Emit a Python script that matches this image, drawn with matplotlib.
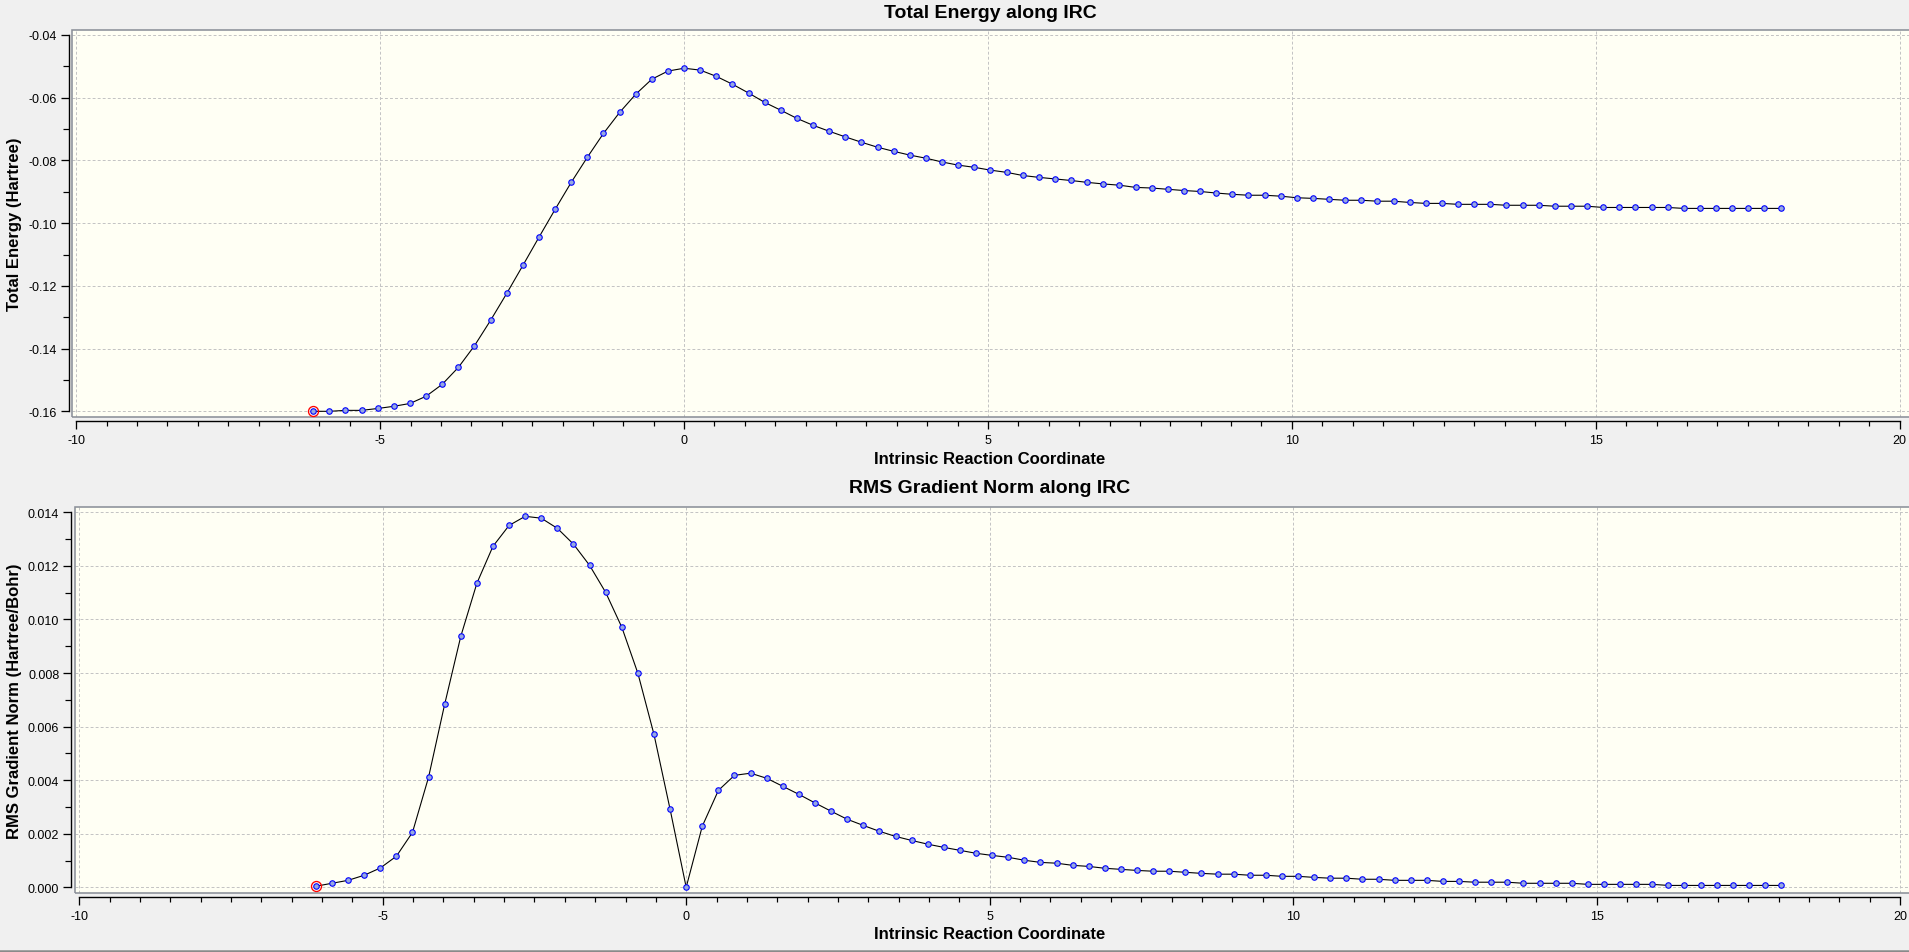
import matplotlib
matplotlib.use("Agg")
import matplotlib.pyplot as plt
from matplotlib.ticker import MultipleLocator, FormatStrFormatter
from matplotlib.patches import Rectangle
from matplotlib.lines import Line2D

plt.rcParams['font.family'] = ['Liberation Sans', 'DejaVu Sans']

# ---------------- data ----------------
irc = [-6.102, -5.837, -5.571, -5.306, -5.041, -4.775, -4.510, -4.245, -3.980, -3.714,
       -3.449, -3.184, -2.918, -2.653, -2.388, -2.122, -1.857, -1.592, -1.327, -1.061,
       -0.796, -0.531, -0.265, 0.000, 0.265, 0.531, 0.796, 1.061, 1.327, 1.592,
       1.857, 2.122, 2.388, 2.653, 2.918, 3.184, 3.449, 3.714, 3.980, 4.245,
       4.510, 4.775, 5.041, 5.306, 5.571, 5.837, 6.102, 6.367, 6.633, 6.898,
       7.163, 7.428, 7.694, 7.959, 8.224, 8.490, 8.755, 9.020, 9.286, 9.551,
       9.816, 10.081, 10.347, 10.612, 10.877, 11.143, 11.408, 11.673, 11.939, 12.204,
       12.469, 12.734, 13.000, 13.265, 13.530, 13.796, 14.061, 14.326, 14.592, 14.857,
       15.122, 15.387, 15.653, 15.918, 16.183, 16.449, 16.714, 16.979, 17.245, 17.510,
       17.775, 18.040]

energy = [-0.1600, -0.1600, -0.1597, -0.1597, -0.1591, -0.1584, -0.1575, -0.1552, -0.1514, -0.1460,
          -0.1391, -0.1310, -0.1224, -0.1135, -0.1045, -0.0956, -0.0870, -0.0790, -0.0714, -0.0647,
          -0.0589, -0.0541, -0.0515, -0.0506, -0.0512, -0.0532, -0.0557, -0.0585, -0.0615, -0.0640,
          -0.0666, -0.0688, -0.0707, -0.0725, -0.0742, -0.0758, -0.0771, -0.0783, -0.0793, -0.0805,
          -0.0815, -0.0822, -0.0831, -0.0838, -0.0848, -0.0854, -0.0859, -0.0864, -0.0870, -0.0875,
          -0.0879, -0.0886, -0.0888, -0.0892, -0.0896, -0.0899, -0.0904, -0.0908, -0.0911, -0.0911,
          -0.0914, -0.0919, -0.0921, -0.0924, -0.0927, -0.0927, -0.0930, -0.0930, -0.0934, -0.0937,
          -0.0937, -0.0940, -0.0940, -0.0940, -0.0943, -0.0943, -0.0943, -0.0946, -0.0946, -0.0946,
          -0.0950, -0.0950, -0.0950, -0.0950, -0.0950, -0.0953, -0.0953, -0.0953, -0.0953, -0.0953,
          -0.0953, -0.0953]

rms_grad = [0.00004, 0.00015, 0.00026, 0.00045, 0.00072, 0.00116, 0.00205, 0.00411, 0.00683, 0.00937,
            0.01135, 0.01273, 0.01351, 0.01385, 0.01378, 0.01340, 0.01281, 0.01202, 0.01101, 0.00971,
            0.00799, 0.00571, 0.00291, 0.00000, 0.00228, 0.00362, 0.00418, 0.00426, 0.00407, 0.00377,
            0.00347, 0.00315, 0.00284, 0.00254, 0.00231, 0.00209, 0.00190, 0.00175, 0.00161, 0.00149,
            0.00138, 0.00127, 0.00119, 0.00112, 0.00101, 0.00093, 0.00090, 0.00082, 0.00078, 0.00071,
            0.00067, 0.00063, 0.00060, 0.00060, 0.00056, 0.00052, 0.00049, 0.00049, 0.00045, 0.00045,
            0.00041, 0.00041, 0.00037, 0.00034, 0.00034, 0.00030, 0.00030, 0.00026, 0.00026, 0.00026,
            0.00022, 0.00022, 0.00019, 0.00019, 0.00019, 0.00015, 0.00015, 0.00015, 0.00015, 0.00011,
            0.00011, 0.00011, 0.00011, 0.00011, 0.00007, 0.00007, 0.00007, 0.00007, 0.00007, 0.00007,
            0.00007, 0.00007]

titles = ["Total Energy along IRC", "RMS Gradient Norm along IRC"]
ylabels = ["Total Energy (Hartree)", "RMS Gradient Norm (Hartree/Bohr)"]
xlabel = "Intrinsic Reaction Coordinate"

# ---------------- layout ----------------
W, H = 1909, 953
DPI = 100
fig = plt.figure(figsize=(W / DPI, H / DPI), dpi=DPI, facecolor='#F0F0F0')

def px2pt(p):
    return p * 72.0 / DPI

def add_axes_px(left, top, right, bottom):
    return fig.add_axes([left / W, 1 - bottom / H, (right - left) / W, (bottom - top) / H])

BG = '#FFFFF4'
FRAME = '#8C9099'
GRID = '#C4C4C4'

def style(ax, xlim, ylim, ybounds, ymaj, ymin, yfmt, xoff, yoff):
    ax.set_facecolor(BG)
    ax.set_xlim(*xlim)
    ax.set_ylim(*ylim)
    for s in ['top', 'right']:
        ax.spines[s].set_visible(False)
    ax.spines['left'].set_position(('outward', px2pt(yoff)))
    ax.spines['bottom'].set_position(('outward', px2pt(xoff)))
    ax.spines['left'].set_bounds(*ybounds)
    ax.spines['bottom'].set_bounds(-10, 20)
    for s in ['left', 'bottom']:
        ax.spines[s].set_linewidth(px2pt(1.4))
        ax.spines[s].set_color('black')
    ax.xaxis.set_major_locator(MultipleLocator(5))
    ax.xaxis.set_minor_locator(MultipleLocator(0.5))
    ax.yaxis.set_major_locator(MultipleLocator(ymaj))
    ax.yaxis.set_minor_locator(MultipleLocator(ymin))
    ax.yaxis.set_major_formatter(FormatStrFormatter(yfmt))
    ax.xaxis.set_major_formatter(FormatStrFormatter('%d'))
    ax.tick_params(axis='both', which='major', direction='out', length=px2pt(8),
                   width=px2pt(1.3), labelsize=9)
    ax.tick_params(axis='x', which='major', pad=px2pt(5))
    ax.tick_params(axis='y', which='major', pad=px2pt(4))
    ax.tick_params(axis='x', which='minor', direction='out', length=px2pt(4.7), width=px2pt(1.2))
    ax.tick_params(axis='y', which='minor', direction='out', length=px2pt(6.5), width=px2pt(1.2))
    ax.grid(True, which='major', color=GRID, linestyle=(0, (px2pt(4), px2pt(3))),
            linewidth=px2pt(1))
    ax.set_axisbelow(True)
    frame = Rectangle((0, 0), 1.01, 1, transform=ax.transAxes, fill=False,
                      edgecolor=FRAME, linewidth=px2pt(1.6), clip_on=False, zorder=1.5)
    ax.add_patch(frame)

def draw_series(ax, x, y):
    ax.plot(x, y, color='black', linewidth=px2pt(1.1), zorder=3)
    ax.plot(x, y, linestyle='none', marker='o', markersize=px2pt(5.5),
            markerfacecolor='#96A8E0', markeredgecolor='#0000FF',
            markeredgewidth=px2pt(1.1), zorder=4)
    ax.plot([x[0]], [y[0]], linestyle='none', marker='o', markersize=px2pt(10),
            markerfacecolor='none', markeredgecolor='#FF0000',
            markeredgewidth=px2pt(1.3), zorder=5)

# top panel
ax1 = add_axes_px(71.5, 30.5, 1912, 418.3)
style(ax1, (-10.079, 20.203), (-0.16191, -0.03825), (-0.16, -0.04),
      0.02, 0.01, '%.2f', 3.4, 2.6)
draw_series(ax1, irc, energy)

# bottom panel
ax2 = add_axes_px(74.5, 507.7, 1912, 894.3)
style(ax2, (-10.079, 20.198), (-0.000224, 0.014209), (0.0, 0.014),
      0.002, 0.001, '%.3f', 3.7, 3.2)
draw_series(ax2, irc, rms_grad)

def ftext(xp, yp, s, **kw):
    fig.text(xp / W, 1 - yp / H, s, **kw)

ftext(990, 14, titles[0], fontsize=14, fontweight='bold', ha='center', va='center')
ftext(990, 459, xlabel, fontsize=12, fontweight='bold', ha='center', va='center')
ftext(14.5, 224, ylabels[0], fontsize=12, fontweight='bold', ha='center', va='center',
      rotation=90)

ftext(990, 489, titles[1], fontsize=14, fontweight='bold', ha='center', va='center')
ftext(990, 935, xlabel, fontsize=12, fontweight='bold', ha='center', va='center')
ftext(14.5, 701, ylabels[1], fontsize=12, fontweight='bold', ha='center', va='center',
      rotation=90)

# bottom border line of the window
fig.add_artist(Line2D([0, 1], [1 - 951.5 / H, 1 - 951.5 / H], transform=fig.transFigure,
                      color='#8A8A8A', linewidth=px2pt(2.5)))

fig.savefig('out.png', dpi=DPI, facecolor=fig.get_facecolor())
